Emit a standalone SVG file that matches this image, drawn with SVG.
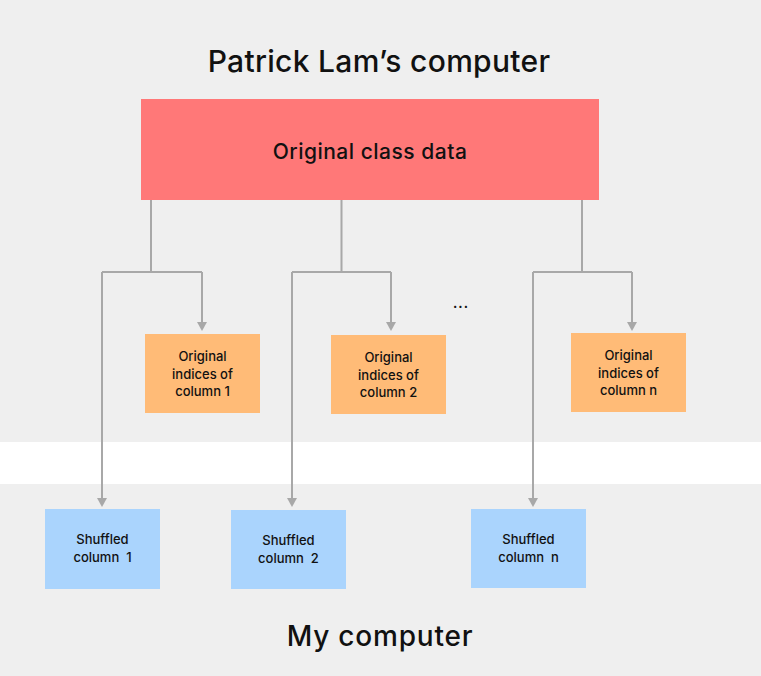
<svg xmlns="http://www.w3.org/2000/svg" width="761" height="676" viewBox="0 0 761 676">
<style>
.t{font-family:Inter,"Liberation Sans",sans-serif;font-weight:500;fill:#111;text-anchor:middle}
.h{font-size:30px;letter-spacing:0.3px}
.m{font-size:21px;letter-spacing:0.5px}
.s{font-size:13px}
.p{white-space:pre}
.c{fill:none;stroke:#a8a8a8;stroke-width:2}
.a{fill:#a8a8a8}
</style>
<rect width="761" height="676" fill="#efefef"/>
<rect x="0" y="442" width="761" height="42" fill="#ffffff"/>
<text class="t h" x="379" y="72">Patrick Lam’s computer</text>
<text class="t h" x="380" y="646" style="font-size:28px;letter-spacing:0.8px">My computer</text>
<g id="connectors">
<path class="c" d="M151,200 V272 M102,272 H202 M341.5,200 V272 M292,272 H391 M582,200 V272 M533,272 H632"/>
<path class="c" d="M202,272 V324"/><path class="a" d="M197,322 H207 L202,331 Z"/>
<path class="c" d="M391,272 V324"/><path class="a" d="M386,322 H396 L391,331 Z"/>
<path class="c" d="M632,272 V324"/><path class="a" d="M627,322 H637 L632,331 Z"/>
<path class="c" d="M102,272 V500"/><path class="a" d="M97,498 H107 L102,507 Z"/>
<path class="c" d="M292,272 V500"/><path class="a" d="M287,498 H297 L292,507 Z"/>
<path class="c" d="M533,272 V500"/><path class="a" d="M528,498 H538 L533,507 Z"/>
</g>
<g id="original">
<rect x="141" y="99" width="458" height="101" fill="#ff7878"/>
<text class="t m" x="370" y="159">Original class data</text>
</g>
<g id="idx1">
<rect x="145" y="334" width="115" height="79" fill="#ffbb77"/>
<text class="t s" x="202.5" y="361">Original</text>
<text class="t s" x="202.5" y="378.5">indices of</text>
<text class="t s" x="202.5" y="396">column 1</text>
</g>
<g id="idx2">
<rect x="331" y="335" width="115" height="79" fill="#ffbb77"/>
<text class="t s" x="388.5" y="362">Original</text>
<text class="t s" x="388.5" y="379.5">indices of</text>
<text class="t s" x="388.5" y="397">column 2</text>
</g>
<g id="idxn">
<rect x="571" y="333" width="115" height="79" fill="#ffbb77"/>
<text class="t s" x="628.5" y="360">Original</text>
<text class="t s" x="628.5" y="377.5">indices of</text>
<text class="t s" x="628.5" y="395">column n</text>
</g>
<g id="dots"><text class="t s" x="461" y="308" style="font-weight:700;letter-spacing:1px">...</text></g>
<g id="sh1">
<rect x="45" y="509" width="115" height="80" fill="#aad4fd"/>
<text class="t s" x="102.5" y="544">Shuffled</text>
<text class="t s p" x="102.5" y="562">column  1</text>
</g>
<g id="sh2">
<rect x="231" y="510" width="115" height="79" fill="#aad4fd"/>
<text class="t s" x="288.5" y="545">Shuffled</text>
<text class="t s p" x="288.5" y="563">column  2</text>
</g>
<g id="shn">
<rect x="471" y="509" width="115" height="79" fill="#aad4fd"/>
<text class="t s" x="528.5" y="544">Shuffled</text>
<text class="t s p" x="528.5" y="562">column  n</text>
</g>
</svg>
